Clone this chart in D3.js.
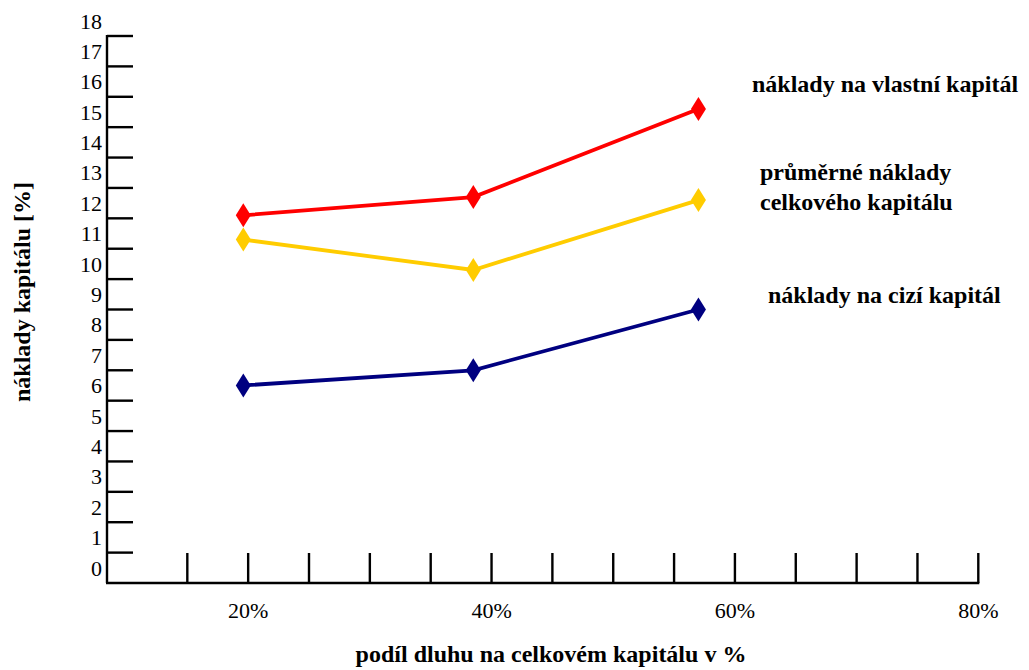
<!DOCTYPE html>
<html>
<head>
<meta charset="utf-8">
<script src="https://cdn.jsdelivr.net/npm/d3@7/dist/d3.min.js"></script>
<style>
  html, body { margin: 0; padding: 0; background: #fff; }
  svg { display: block; }
  text { font-family: "Liberation Serif", "Times New Roman", serif; fill: #000; }
</style>
</head>
<body>
<svg id="chart" width="1029" height="670"></svg>
<script>
// Debt share (% of total capital) at which each cost was computed
const debtShare = [19.6, 38.5, 57.0];

// Cost of capital series, in %
const costEquity = [11.6, 12.2, 15.1];   // náklady na vlastní kapitál
const costWacc   = [10.8, 9.8, 12.1];    // průměrné náklady celkového kapitálu
const costDebt   = [6.0, 6.5, 8.5];      // náklady na cizí kapitál

// Axis labels
const yTickLabels = d3.range(0, 19);          // 0 … 18
const xTickLabels = [20, 40, 60, 80];         // labelled positions
const xTickMarks  = d3.range(15, 81, 5);      // minor tick marks every 5 %

const seriesNames = [
  ["náklady na vlastní kapitál"],
  ["průměrné náklady", "celkového kapitálu"],
  ["náklady na cizí kapitál"]
];

const series = [
  { values: costEquity, color: "#ff0000", label: seriesNames[0] },
  { values: costWacc,   color: "#ffcc00", label: seriesNames[1] },
  { values: costDebt,   color: "#000080", label: seriesNames[2] }
];

const svg = d3.select("#chart");

const x = d3.scaleLinear().domain([8.4, 80]).range([107, 978.3]);
// value labels sit midway between the tick marks
const y = d3.scaleLinear().domain([-0.5, 17.5]).range([583, 36]);

const axisG = svg.append("g").attr("stroke", "#000").attr("stroke-width", 2.4);

// y axis line + tick marks
axisG.append("line")
  .attr("x1", x.range()[0]).attr("x2", x.range()[0])
  .attr("y1", y(17.5) - 1).attr("y2", y(-0.5));
axisG.selectAll(".ytick")
  .data(d3.range(0.5, 18, 1))
  .join("line")
  .attr("x1", x.range()[0]).attr("x2", x.range()[0] + 26)
  .attr("y1", d => y(d)).attr("y2", d => y(d));

// x axis line + tick marks
axisG.append("line")
  .attr("x1", x.range()[0] - 1).attr("x2", x(80) + 1)
  .attr("y1", y(-0.5)).attr("y2", y(-0.5));
axisG.selectAll(".xtick")
  .data(xTickMarks)
  .join("line")
  .attr("x1", d => x(d)).attr("x2", d => x(d))
  .attr("y1", y(-0.5)).attr("y2", y(-0.5) - 30);

// y tick labels
svg.append("g").selectAll("text")
  .data(yTickLabels)
  .join("text")
  .attr("x", 102)
  .attr("y", d => y(d))
  .attr("dy", "0.35em")
  .attr("text-anchor", "end")
  .attr("font-size", 22)
  .text(d => d);

// x tick labels
svg.append("g").selectAll("text")
  .data(xTickLabels)
  .join("text")
  .attr("x", d => x(d))
  .attr("y", 618)
  .attr("text-anchor", "middle")
  .attr("font-size", 22)
  .text(d => d + "%");

// axis titles
svg.append("text")
  .attr("x", 551).attr("y", 662)
  .attr("text-anchor", "middle")
  .attr("font-size", 24).attr("font-weight", "bold")
  .text("podíl dluhu na celkovém kapitálu v %");

svg.append("text")
  .attr("transform", "translate(30,292) rotate(-90)")
  .attr("text-anchor", "middle")
  .attr("font-size", 24).attr("font-weight", "bold")
  .text("náklady kapitálu [%]");

// series lines and diamond markers
const line = d3.line()
  .x((d, i) => x(debtShare[i]))
  .y(d => y(d));

const diamond = "M0,-12L7.5,0L0,12L-7.5,0Z";

series.forEach(s => {
  svg.append("path")
    .datum(s.values)
    .attr("fill", "none")
    .attr("stroke", s.color)
    .attr("stroke-width", 3.8)
    .attr("d", line);
  svg.append("g").selectAll("path")
    .data(s.values)
    .join("path")
    .attr("transform", (d, i) => `translate(${x(debtShare[i])},${y(d)})`)
    .attr("d", diamond)
    .attr("fill", s.color);
});

// series labels, placed right of the last point
const labelPos = [
  { x: 752, y: 92 },
  { x: 760, y: 180 },
  { x: 768, y: 303 }
];
series.forEach((s, k) => {
  const t = svg.append("text")
    .attr("x", labelPos[k].x).attr("y", labelPos[k].y)
    .attr("font-size", 24).attr("font-weight", "bold");
  s.label.forEach((ln, j) => {
    t.append("tspan")
      .attr("x", labelPos[k].x)
      .attr("dy", j === 0 ? 0 : 30)
      .text(ln);
  });
});
</script>
</body>
</html>
